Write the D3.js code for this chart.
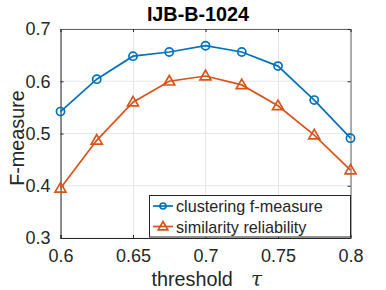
<!DOCTYPE html>
<html><head><meta charset="utf-8">
<script src="https://cdn.jsdelivr.net/npm/d3@7"></script>
<style>body{margin:0;background:#fff}svg{display:block}text{font-family:"Liberation Sans",Arial,sans-serif}</style>
</head><body>
<svg id="c" width="386" height="290"></svg>
<script>
const thresholds = [0.6, 0.625, 0.65, 0.675, 0.7, 0.725, 0.75, 0.775, 0.8];
const clusteringF = [0.542, 0.604, 0.648, 0.656, 0.668, 0.656, 0.629, 0.564, 0.491];
const similarityRel = [0.395, 0.487, 0.560, 0.600, 0.610, 0.593, 0.553, 0.497, 0.430];
const xTicks = [0.6, 0.65, 0.7, 0.75, 0.8];
const yTicks = [0.3, 0.4, 0.5, 0.6, 0.7];
const seriesNames = ["clustering f-measure", "similarity reliability"];

const svg = d3.select("#c");
const L = 60.5, R = 350.5, T = 29, B = 238;
const x = d3.scaleLinear().domain([0.6, 0.8]).range([L, R]);
const y = d3.scaleLinear().domain([0.3, 0.7]).range([B, T]);
const blue = "#0072BD", orange = "#D95319", axc = "#262626";
const FF = '"Liberation Sans",Arial,sans-serif';

// grid
const g = svg.append("g");
g.selectAll(".gx").data(xTicks).join("line")
  .attr("x1", d => Math.round(x(d)) + 0.5).attr("x2", d => Math.round(x(d)) + 0.5).attr("y1", T).attr("y2", B)
  .attr("stroke", "#e6e6e6").attr("stroke-width", 1);
g.selectAll(".gy").data(yTicks).join("line")
  .attr("y1", d => y(d)).attr("y2", d => y(d)).attr("x1", L).attr("x2", R)
  .attr("stroke", "#e6e6e6").attr("stroke-width", 1);

// axes
const fmt = d => String(+d.toFixed(2));
const xAxis = d3.axisBottom(x).tickValues(xTicks).tickSize(-3).tickPadding(11).tickFormat(fmt);
const yAxis = d3.axisLeft(y).tickValues(yTicks).tickSize(-3).tickPadding(10).tickFormat(fmt);
const xa = svg.append("g").attr("transform", `translate(0,${B})`).call(xAxis);
const ya = svg.append("g").attr("transform", `translate(${L},0)`).call(yAxis);
const xt = svg.append("g").attr("transform", `translate(0,${T})`).call(d3.axisTop(x).tickValues(xTicks).tickSize(-3).tickFormat(""));
const yr = svg.append("g").attr("transform", `translate(${R},0)`).call(d3.axisRight(y).tickValues(yTicks).tickSize(-3).tickFormat(""));
[xa, ya, xt, yr].forEach(a => {
  a.selectAll("path").attr("stroke", axc).attr("stroke-width", 1);
  a.selectAll("line").attr("stroke", axc);
  a.selectAll("text").attr("fill", axc).style("font-size", "18px").style("font-family", FF);
});
[xt, yr].forEach(a => a.selectAll("path").attr("stroke", "#666"));

// lines
const line = d3.line().x((d, i) => x(thresholds[i])).y(d => y(d));
function series(vals, color, marker) {
  svg.append("path").datum(vals).attr("d", line).attr("fill", "none")
    .attr("stroke", color).attr("stroke-width", 1.7);
  const sym = d3.symbol().type(marker).size(marker === d3.symbolCircle ? 52 : 52);
  svg.selectAll(null).data(vals).join("path")
    .attr("d", sym)
    .attr("transform", (d, i) => `translate(${x(thresholds[i])},${y(d) + (marker === d3.symbolTriangle ? 0.6 : 0)})`)
    .attr("fill", "none").attr("stroke", color).attr("stroke-width", 1.7);
}
series(clusteringF, blue, d3.symbolCircle);
series(similarityRel, orange, d3.symbolTriangle);

// legend
const lg = svg.append("g");
lg.append("rect").attr("x", 149.5).attr("y", 195.5).attr("width", 201).attr("height", 41.5)
  .attr("fill", "#fff").attr("stroke", axc).attr("stroke-width", 1);
const rows = [{n: seriesNames[0], c: blue, m: d3.symbolCircle, yy: 206},
              {n: seriesNames[1], c: orange, m: d3.symbolTriangle, yy: 226.5}];
rows.forEach(r => {
  lg.append("line").attr("x1", 153).attr("x2", 173).attr("y1", r.yy).attr("y2", r.yy)
    .attr("stroke", r.c).attr("stroke-width", 1.7);
  lg.append("path").attr("d", d3.symbol().type(r.m).size(r.m === d3.symbolCircle ? 28 : 40)())
    .attr("transform", `translate(163,${r.yy + (r.m === d3.symbolTriangle ? 0.5 : 0)})`)
    .attr("fill", "none").attr("stroke", r.c).attr("stroke-width", 1.7);
  lg.append("text").attr("x", 176).attr("y", r.yy + 6).text(r.n)
    .style("font-size", "16.2px").attr("fill", axc);
});

// title and labels
svg.append("text").attr("x", 198).attr("y", 20.5).attr("text-anchor", "middle")
  .style("font-size", "19.8px").style("font-weight", "bold").attr("fill", "#000").text("IJB-B-1024");
svg.append("text").attr("transform", "translate(24,138) rotate(-90)").attr("text-anchor", "middle")
  .style("font-size", "19.8px").attr("fill", axc).text("F-measure");
const xl = svg.append("text").attr("x", 151.5).attr("y", 285.5).attr("text-anchor", "start")
  .style("font-size", "19.8px").attr("fill", axc);
xl.append("tspan").text("threshold");
xl.append("tspan").attr("x", 251).style("font-style", "italic").style("font-family", '"DejaVu Serif",serif').text("τ");
</script>
</body></html>
